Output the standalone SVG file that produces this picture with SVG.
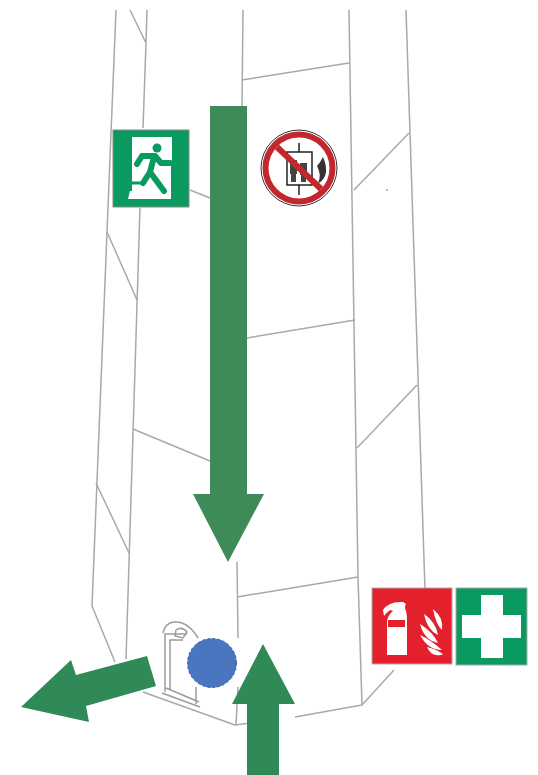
<svg xmlns="http://www.w3.org/2000/svg" width="538" height="775" viewBox="0 0 538 775">
<style>
.w{fill:none;stroke:#a9a9a9;stroke-width:1.5;stroke-linejoin:round}
.arrow{fill:#2f8a57}
.d{fill:none;stroke:#9c9c9c;stroke-width:1.5}
.g{fill:#0a9a60}
.run{fill:none;stroke:#0a9a60;stroke-linecap:round;stroke-linejoin:round}
.white{fill:#fff}
</style>
<rect width="538" height="775" fill="#fff"/>
<g id="building">
<path class="w" d="M116 10L107 232L92 606L115 662"/>
<path class="w" d="M130 10L146 43M147 10L146 43L143 128M140 208L126 659"/>
<path class="w" d="M107 232L137 300M96 483L129 553M133 429L210 461M190 190L210 198"/>
<path class="w" d="M243 10L242 106M237 562L238 638M238 687L236 725"/>
<path class="w" d="M242 80L349 63M247 338L355 320M237 597L358 577"/>
<path class="w" d="M349 10L358 577L362 705"/>
<path class="w" d="M406 10L425 590"/>
<path class="w" d="M354 190L409 133M357 448L417 385"/>
<path class="w" d="M143 692L235 725L279 719M295 717L362 705L394 670"/>
<path d="M386 190h2" stroke="#777" stroke-width="1"/>
</g>
<g id="door">
<path class="d" d="M163 633Q165 623 174 622Q188 621 198 638"/>
<path class="d" stroke-width="2.5" d="M165 692V634H187M170 690V640H183M162 693L200 707M166 688L199 702M196 687V704"/>
<path class="d" d="M176 630Q182 626 187 632L183 638L175 636Z"/>
</g>
<g id="exit-sign">
<rect x="113" y="130" width="76" height="77" class="g" stroke="#888" stroke-width="1"/>
<path class="white" d="M132 137H172V165H171V199H128L130 191H132Z"/>
<circle cx="157" cy="148" r="4.5" class="g"/>
<path class="run" stroke-width="6" d="M137 164L142 156H155L161 163H170M154 157L150 172L164 191M150 172L143 183"/>
<path class="run" stroke-width="3" d="M144 183H127"/>
</g>
<g id="no-lift-sign">
<circle cx="299" cy="168" r="38" fill="#fff" stroke="#333" stroke-width="1"/>
<circle cx="299" cy="168" r="33.5" fill="none" stroke="#c1272d" stroke-width="6"/>
<rect x="287" y="152" width="25" height="33" fill="#fff" stroke="#222" stroke-width="1.5"/>
<path d="M299 143V152M299 185V195" stroke="#222" stroke-width="1.5"/>
<path d="M290 160h7v14h-1v8h-5v-8h-1zM300 163h7v12h-1v7h-5v-7h-1z" fill="#444"/>
<path d="M323 157Q328 168 325 176Q322 182 318 183Q322 175 317 166Q320 163 323 157Z" fill="#333"/>
<path d="M277 147L321 189" stroke="#c1272d" stroke-width="6"/>
</g>
<g id="extinguisher-sign">
<rect x="372" y="588" width="80" height="76" fill="#e3202c" stroke="#aaa" stroke-width="1"/>
<path class="white" d="M383 610Q389 601 403 602L406 604Q404 607 406 611Q407 614 407 620V655H387V621Q388 615 393 611Q390 608 384 616Z"/>
<rect x="388" y="620" width="17" height="7" fill="#e3202c"/>
<path class="white" d="M433 609Q444 618 442 630Q436 625 433 609ZM424 614Q436 622 438 635Q427 630 424 614ZM420 624Q433 632 438 643Q424 640 420 624ZM420 635Q431 640 442 650Q428 650 420 635ZM427 647Q436 649 443 654Q441 656 436 655Q430 654 427 647Z"/>
</g>
<g id="first-aid-sign">
<rect x="456" y="588" width="71" height="77" class="g" stroke="#aaa" stroke-width="1"/>
<path class="white" d="M481 595H503V615H521V638H503V658H481V638H462V615H481Z"/>
</g>
<g id="connectors">
<path class="arrow" style="fill:#3f8a59" d="M210 106H247V494H264L228 562L193 494H210Z"/>
<path class="arrow" d="M21 707L71 660L76 675L147 656L156 686L86 706L89 722Z"/>
<path class="arrow" d="M263 644L295 704H279V775H247V704H232Z"/>
</g>
<g id="marker">
<circle cx="212" cy="663" r="24.5" fill="#4a76c0" stroke="#3a5f9e" stroke-width="1" stroke-dasharray="3 2"/>
</g>
</svg>
